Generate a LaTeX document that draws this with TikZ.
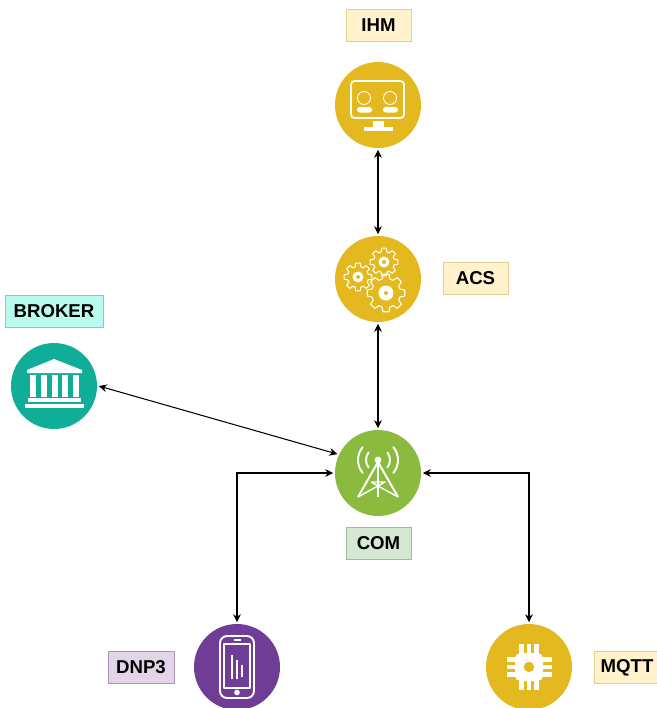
\documentclass[tikz,border=0pt]{standalone}
\usepackage{fontspec}
\setmainfont{Liberation Sans}
\usetikzlibrary{arrows.meta}

\definecolor{hubyellow}{HTML}{E4B81F}
\definecolor{hubgreen}{HTML}{8ABB3E}
\definecolor{hubteal}{HTML}{10AE98}
\definecolor{hubpurple}{HTML}{6F3D96}
\definecolor{tagyellow}{HTML}{FFF2CC}
\definecolor{tagcyan}{HTML}{B9FBEE}
\definecolor{taggreen}{HTML}{D5E8D4}
\definecolor{tagpurple}{HTML}{E1D5E7}
\definecolor{edgeyellow}{HTML}{E3CF8F}
\definecolor{edgecyan}{HTML}{9DB9D6}
\definecolor{edgegreen}{HTML}{9CC096}
\definecolor{edgepurple}{HTML}{AE93BE}

\tikzset{
  hub/.style={circle,minimum size=1.72cm,inner sep=0pt,outer sep=1pt},
  tag/.style={draw,line width=0.5pt,minimum height=0.64cm,inner sep=0pt,font=\fontsize{10.6}{12}\selectfont\bfseries},
  link/.style={{Stealth[length=4.6pt,width=4.4pt]}-{Stealth[length=4.6pt,width=4.4pt]},line width=0.6pt},
  iconline/.style={draw=white,line width=1pt,line join=round}
}

% one gear of the ACS icon: x, y, outer radius, root radius, hub radius
\newcommand{\gearicon}[5]{%
  \begin{scope}[shift={(#1,#2)}]
    \draw[iconline,line width=0.6pt] (-16:#4) \foreach \t in {0,45,...,315} {
      -- ({\t-16}:#4) -- ({\t-9}:#3) -- ({\t+9}:#3) -- ({\t+16}:#4)} -- cycle;
    \fill[white] (0,0) circle (#5);
    \fill[hubyellow] (0,0) circle (2);
  \end{scope}}

\begin{document}
\begin{tikzpicture}[x=0.02cm,y=-0.02cm]
\useasboundingbox (0,0) rectangle (657,708);
\clip (0,0) rectangle (657,708);

% Circles
\node[hub,fill=hubyellow] (ihm) at (378,105) {};
\node[hub,fill=hubyellow] (acs) at (378,279) {};
\node[hub,fill=hubteal] (broker) at (54,386) {};
\node[hub,fill=hubgreen] (com) at (378,473) {};
\node[hub,fill=hubpurple] (dnp) at (237,667) {};
\node[hub,fill=hubyellow] (mqtt) at (529,667) {};

% Labels
\node[tag,fill=tagyellow,draw=edgeyellow,minimum width=1.3cm] (ihmtag) at (378.5,25.5) {IHM};
\node[tag,fill=tagyellow,draw=edgeyellow,minimum width=1.3cm] (acstag) at (475.5,278.5) {ACS};
\node[tag,fill=tagcyan,draw=edgecyan,minimum width=1.96cm] (brokertag) at (54,311) {BROKER};
\node[tag,fill=taggreen,draw=edgegreen,minimum width=1.3cm] (comtag) at (378.5,543) {COM};
\node[tag,fill=tagpurple,draw=edgepurple,minimum width=1.32cm] (dnptag) at (141,667.5) {DNP3};
\node[tag,fill=tagyellow,draw=edgeyellow,minimum width=1.3cm] (mqtttag) at (627,667.5) {MQTT};

% Connectors
\draw[link] (ihm) -- (acs);
\draw[link] (acs) -- (com);
\draw[link] (broker.east) -- (com.155);
\draw[link] (com.west) -| (dnp.north);
\draw[link] (com.east) -| (mqtt.north);

% IHM icon
\begin{scope}[shift={(378,105)}]
  \draw[iconline,rounded corners=2] (-27,-24) rectangle (26,13);
  \draw[iconline,line width=0.5pt] (-14,-7) circle (6.5);
  \draw[iconline,line width=0.5pt] (12,-7) circle (6.5);
  \fill[white,rounded corners=1.5] (-21,7.5) rectangle (-6,2);
  \fill[white,rounded corners=1.5] (5,7.5) rectangle (20,2);
  \fill[white] (-5,22) rectangle (6,16);
  \fill[white] (-14,25.5) rectangle (15,22);
\end{scope}

% ACS icon
\gearicon{358}{277}{14}{10.5}{5.5}
\gearicon{384}{262}{14}{10.5}{5.5}
\gearicon{386}{293}{19}{14.5}{7.5}

% BROKER icon
\begin{scope}[shift={(54,386)}]
  \fill[white] (0,-27) -- (28,-16) -- (28,-13) -- (-27,-13) -- (-27,-16) -- cycle;
  \foreach \col in {-21.5,-10.5,0.5,11,22}
    \fill[white] (\col-3,-11) rectangle (\col+3,11);
  \fill[white] (-26,12) rectangle (27,16);
  \fill[white] (-29,18) rectangle (30,21.5);
\end{scope}

% COM icon
\begin{scope}[shift={(378,473)}]
  \fill[white] (0,-13) circle (3.4);
  \draw[iconline,line width=1.1pt] (-20,24) -- (0,-11) -- (20,24);
  \draw[iconline,line width=1.1pt] (0,-11) -- (0,24);
  \draw[iconline,line width=0.8pt] (-7,9) -- (7,9) -- (-20,24) (-7,9) -- (20,24);
  \foreach \a in {0,180} {
    \draw[iconline,line width=1.1pt,line cap=round] ([shift={(0,-13)}]\a-38:12) arc[start angle=\a-38,end angle=\a+38,radius=12];
    \draw[iconline,line width=1.1pt,line cap=round] ([shift={(0,-13)}]\a-40:20) arc[start angle=\a-40,end angle=\a+40,radius=20];
  }
\end{scope}

% DNP3 icon
\begin{scope}[shift={(237,667)}]
  \draw[iconline,line width=1.1pt,rounded corners=4] (-17,-31) rectangle (17,31);
  \draw[iconline,line width=0.6pt] (-13,-23) rectangle (13,21);
  \draw[iconline,line width=0.9pt] (-3.5,-27) -- (4,-27);
  \fill[white] (0,25.5) circle (2.8);
  \draw[iconline,line width=0.7pt] (-5,-12) -- (-5,12);
  \draw[iconline,line width=0.7pt] (0,-7) -- (0,12);
  \draw[iconline,line width=0.7pt] (5,-2) -- (5,10);
\end{scope}

% MQTT icon
\begin{scope}[shift={(529,667)}]
  \foreach \pin in {-7.5,0,7.5} {
    \fill[white] (\pin-2.2,-23) rectangle (\pin+2.2,23);
    \fill[white] (-22,\pin-2.2) rectangle (23,\pin+2.2);
  }
  \fill[white,rounded corners=3] (-14,-14) rectangle (14,14);
  \fill[hubyellow] (0,0) circle (5.2);
\end{scope}
\end{tikzpicture}
\end{document}
